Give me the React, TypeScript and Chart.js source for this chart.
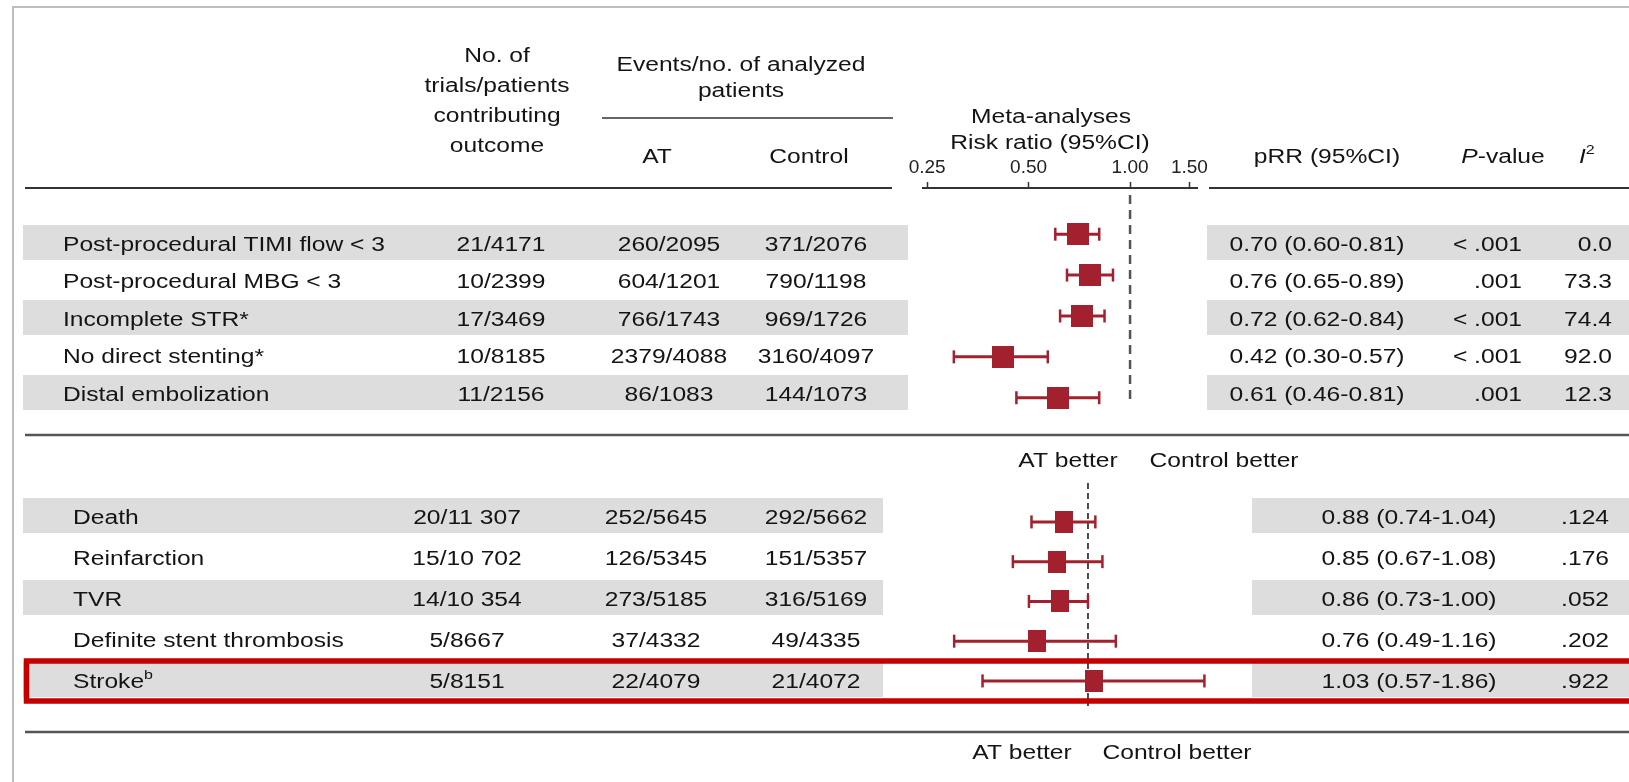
import React, { useEffect, useRef } from 'react';
import { Chart, registerables } from 'chart.js';

Chart.register(...registerables);

// ---- Procedural outcomes (upper panel) ----
const procLabels = [
  'Post-procedural TIMI flow < 3',
  'Post-procedural MBG < 3',
  'Incomplete STR*',
  'No direct stenting*',
  'Distal embolization',
];
const procTrials = ['21/4171', '10/2399', '17/3469', '10/8185', '11/2156'];
const procAT = ['260/2095', '604/1201', '766/1743', '2379/4088', '86/1083'];
const procControl = ['371/2076', '790/1198', '969/1726', '3160/4097', '144/1073'];
const procRR = [0.7, 0.76, 0.72, 0.42, 0.61];
const procLo = [0.6, 0.65, 0.62, 0.3, 0.46];
const procHi = [0.81, 0.89, 0.84, 0.57, 0.81];
const procP = ['< .001', '.001', '< .001', '< .001', '.001'];
const procI2 = ['0.0', '73.3', '74.4', '92.0', '12.3'];

// ---- Clinical outcomes (lower panel) ----
const clinLabels = ['Death', 'Reinfarction', 'TVR', 'Definite stent thrombosis', 'Stroke'];
const clinTrials = ['20/11 307', '15/10 702', '14/10 354', '5/8667', '5/8151'];
const clinAT = ['252/5645', '126/5345', '273/5185', '37/4332', '22/4079'];
const clinControl = ['292/5662', '151/5357', '316/5169', '49/4335', '21/4072'];
const clinRR = [0.88, 0.85, 0.86, 0.76, 1.03];
const clinLo = [0.74, 0.67, 0.73, 0.49, 0.57];
const clinHi = [1.04, 1.08, 1.0, 1.16, 1.86];
const clinP = ['.124', '.176', '.052', '.202', '.922'];

// Risk-ratio axis
const axisTicks = [0.25, 0.5, 1.0, 1.5];
const topAxisRange = [0.243, 1.58];
const bottomAxisRange = [0.415, 1.788];

// ---- Page layout ----
const W = 1629;
const H = 782;
const SX = 1.23; // horizontal stretch applied to table text
const FONT = '"Liberation Sans", Arial, Helvetica, sans-serif';
const INK = '#141414';
const RED = '#a3202e';
const BAND = '#dddddd';

const TOP_ROW_Y0 = 242.5;
const TOP_ROW_STEP = 37.5;
const BOT_ROW_Y0 = 515.5;
const BOT_ROW_STEP = 41;
const TOP_COLS = { label: 63, trials: 501, at: 669, control: 816, prr: 1317, p: 1522, i2: 1612 };
const BOT_COLS = { label: 73, trials: 467, at: 656, control: 816, prr: 1409, p: 1609 };

type Seg = { t: string; italic?: boolean; sup?: boolean; size?: number };
type Align = 'left' | 'center' | 'right';

function segFont(s: Seg) {
  const size = s.size ?? (s.sup ? 13 : 20);
  return `${s.italic ? 'italic ' : ''}${size}px ${FONT}`;
}

function drawRich(ctx: CanvasRenderingContext2D, segs: Seg[], x: number, y: number, align: Align) {
  ctx.save();
  const widths = segs.map((s) => {
    ctx.font = segFont(s);
    return ctx.measureText(s.t).width * SX;
  });
  const total = widths.reduce((a, b) => a + b, 0);
  let cx = align === 'left' ? x : align === 'center' ? x - total / 2 : x - total;
  ctx.textAlign = 'left';
  ctx.textBaseline = 'alphabetic';
  ctx.fillStyle = INK;
  segs.forEach((s, i) => {
    ctx.save();
    ctx.font = segFont(s);
    ctx.translate(cx, y - (s.sup ? 9 : 0));
    ctx.scale(SX, 1);
    ctx.fillText(s.t, 0, 0);
    ctx.restore();
    cx += widths[i];
  });
  ctx.restore();
}

function txt(ctx: CanvasRenderingContext2D, t: string, x: number, y: number, align: Align = 'left') {
  drawRich(ctx, [{ t }], x, y, align);
}

function hline(ctx: CanvasRenderingContext2D, x1: number, x2: number, y: number, color: string, width: number) {
  ctx.save();
  ctx.strokeStyle = color;
  ctx.lineWidth = width;
  ctx.beginPath();
  ctx.moveTo(x1, y);
  ctx.lineTo(x2, y);
  ctx.stroke();
  ctx.restore();
}

const fmt = (v: number) => v.toFixed(2);
const ciText = (rr: number, lo: number, hi: number) => `${fmt(rr)} (${fmt(lo)}-${fmt(hi)})`;

const tablePlugin = {
  id: 'forestTable',
  beforeDraw(chart: any) {
    const ctx: CanvasRenderingContext2D = chart.ctx;
    ctx.save();

    // outer frame
    ctx.strokeStyle = '#bdbdbd';
    ctx.lineWidth = 2;
    ctx.beginPath();
    ctx.moveTo(13, H);
    ctx.lineTo(13, 7);
    ctx.lineTo(W, 7);
    ctx.stroke();

    // zebra bands
    ctx.fillStyle = BAND;
    for (let i = 0; i < procLabels.length; i += 2) {
      const yc = TOP_ROW_Y0 + TOP_ROW_STEP * i;
      ctx.fillRect(23, yc - 17.5, 908 - 23, 35);
      ctx.fillRect(1207, yc - 17.5, W - 1207, 35);
    }
    for (let i = 0; i < clinLabels.length; i += 2) {
      const yc = BOT_ROW_Y0 + BOT_ROW_STEP * i;
      ctx.fillRect(23, yc - 17.5, 883 - 23, 35);
      ctx.fillRect(1252, yc - 17.5, W - 1252, 35);
    }

    // rules
    hline(ctx, 25, 892, 188, '#333', 2);
    hline(ctx, 1209, W, 188, '#333', 2);
    hline(ctx, 602, 893, 118, '#333', 1.5);
    hline(ctx, 25, W, 435, '#555', 2.5);
    hline(ctx, 25, W, 732, '#555', 2.5);

    // header
    ['No. of', 'trials/patients', 'contributing', 'outcome'].forEach((t, i) =>
      txt(ctx, t, 497, [62, 92, 122, 152][i], 'center')
    );
    txt(ctx, 'Events/no. of analyzed', 741, 71, 'center');
    txt(ctx, 'patients', 741, 97, 'center');
    txt(ctx, 'AT', 657, 163, 'center');
    txt(ctx, 'Control', 809, 163, 'center');
    txt(ctx, 'Meta-analyses', 1051, 123, 'center');
    txt(ctx, 'Risk ratio (95%CI)', 1050, 149, 'center');
    txt(ctx, 'pRR (95%CI)', 1327, 163, 'center');
    drawRich(ctx, [{ t: 'P', italic: true }, { t: '-value' }], 1503, 163, 'center');
    drawRich(ctx, [{ t: 'I', italic: true }, { t: '2', sup: true }], 1579, 163, 'left');

    // upper panel rows
    procLabels.forEach((label, i) => {
      const y = TOP_ROW_Y0 + TOP_ROW_STEP * i + 8;
      txt(ctx, label, TOP_COLS.label, y, 'left');
      txt(ctx, procTrials[i], TOP_COLS.trials, y, 'center');
      txt(ctx, procAT[i], TOP_COLS.at, y, 'center');
      txt(ctx, procControl[i], TOP_COLS.control, y, 'center');
      txt(ctx, ciText(procRR[i], procLo[i], procHi[i]), TOP_COLS.prr, y, 'center');
      txt(ctx, procP[i], TOP_COLS.p, y, 'right');
      txt(ctx, procI2[i], TOP_COLS.i2, y, 'right');
    });

    txt(ctx, 'AT better', 1068, 467, 'center');
    txt(ctx, 'Control better', 1224, 467, 'center');

    // lower panel rows
    clinLabels.forEach((label, i) => {
      const y = BOT_ROW_Y0 + BOT_ROW_STEP * i + 8.5;
      if (label === 'Stroke') {
        drawRich(ctx, [{ t: label }, { t: 'b', sup: true }], BOT_COLS.label, y, 'left');
      } else {
        txt(ctx, label, BOT_COLS.label, y, 'left');
      }
      txt(ctx, clinTrials[i], BOT_COLS.trials, y, 'center');
      txt(ctx, clinAT[i], BOT_COLS.at, y, 'center');
      txt(ctx, clinControl[i], BOT_COLS.control, y, 'center');
      txt(ctx, ciText(clinRR[i], clinLo[i], clinHi[i]), BOT_COLS.prr, y, 'center');
      txt(ctx, clinP[i], BOT_COLS.p, y, 'right');
    });

    txt(ctx, 'AT better', 1022, 759, 'center');
    txt(ctx, 'Control better', 1177, 759, 'center');

    ctx.restore();
  },
  beforeDatasetsDraw(chart: any) {
    const ctx: CanvasRenderingContext2D = chart.ctx;
    const xt = chart.scales.x.getPixelForValue(1);
    const xb = chart.scales.xb.getPixelForValue(1);
    ctx.save();
    ctx.strokeStyle = '#555';
    ctx.lineWidth = 2.5;
    ctx.setLineDash([9, 6]);
    ctx.beginPath();
    ctx.moveTo(xt, 195);
    ctx.lineTo(xt, 402);
    ctx.stroke();
    ctx.strokeStyle = '#111';
    ctx.lineWidth = 1.5;
    ctx.setLineDash([6, 4]);
    ctx.beginPath();
    ctx.moveTo(xb, 483);
    ctx.lineTo(xb, 706);
    ctx.stroke();
    ctx.restore();
  },
  afterDraw(chart: any) {
    const ctx: CanvasRenderingContext2D = chart.ctx;
    ctx.save();
    ctx.strokeStyle = '#c40000';
    ctx.lineWidth = 5.5;
    ctx.strokeRect(26.5, 661, W + 10, 40);
    ctx.restore();
  },
};

function markerBox(w: number, h: number, color: string) {
  const c = document.createElement('canvas');
  c.width = w;
  c.height = h;
  const g = c.getContext('2d')!;
  g.fillStyle = color;
  g.fillRect(0, 0, w, h);
  return c;
}

function ciDataset(lo: number, hi: number, row: number, xAxisID: string, yAxisID: string) {
  return {
    data: [
      { x: lo, y: row },
      { x: hi, y: row },
    ],
    xAxisID,
    yAxisID,
    showLine: true,
    borderColor: RED,
    borderWidth: 3,
    pointStyle: 'line',
    pointRotation: 90,
    pointRadius: 6.5,
    pointHoverRadius: 20,
    pointBorderColor: RED,
    pointBorderWidth: 2.5,
    clip: false,
  };
}

export default function App() {
  const canvasRef = useRef<HTMLCanvasElement | null>(null);

  useEffect(() => {
    if (!canvasRef.current) return;
    Chart.defaults.font.family = FONT;
    const sqTop = markerBox(22, 22, RED);
    const sqBottom = markerBox(18, 22, RED);

    const datasets: any[] = [
      {
        data: procRR.map((v, i) => ({ x: v, y: i })),
        xAxisID: 'x',
        yAxisID: 'yt',
        pointStyle: sqTop,
        pointRadius: 5,
        pointHoverRadius: 20,
        clip: false,
      },
      {
        data: clinRR.map((v, i) => ({ x: v, y: i })),
        xAxisID: 'xb',
        yAxisID: 'yb',
        pointStyle: sqBottom,
        pointRadius: 5,
        pointHoverRadius: 20,
        clip: false,
      },
      ...procLo.map((lo, i) => ciDataset(lo, procHi[i], i, 'x', 'yt')),
      ...clinLo.map((lo, i) => ciDataset(lo, clinHi[i], i, 'xb', 'yb')),
    ];

    const chart = new Chart(canvasRef.current, {
      type: 'scatter',
      data: { datasets },
      plugins: [tablePlugin],
      options: {
        animation: false,
        responsive: true,
        maintainAspectRatio: false,
        devicePixelRatio: 1,
        events: [],
        layout: { padding: { left: 923, right: W - 1197, top: 158, bottom: H - 733 } },
        plugins: { legend: { display: false }, tooltip: { enabled: false } },
        scales: {
          x: {
            type: 'logarithmic',
            position: 'top',
            min: topAxisRange[0],
            max: topAxisRange[1],
            afterBuildTicks: (s: any) => {
              s.ticks = axisTicks.map((v) => ({ value: v }));
            },
            afterFit: (s: any) => {
              s.height = 30;
            },
            ticks: {
              autoSkip: false,
              maxRotation: 0,
              padding: 3,
              color: '#222',
              font: { size: 19, family: FONT },
              callback: (v: any) => Number(v).toFixed(2),
            },
            grid: {
              drawOnChartArea: false,
              drawTicks: true,
              tickLength: 6,
              tickColor: '#333',
              tickWidth: 1.5,
            },
            border: { display: true, color: '#333', width: 2 },
          },
          xb: {
            type: 'logarithmic',
            display: false,
            min: bottomAxisRange[0],
            max: bottomAxisRange[1],
          },
          yt: { type: 'linear', display: false, reverse: true, min: -1.13, max: 12.2 },
          yb: { type: 'linear', display: false, reverse: true, min: -8.4, max: 5.31 },
        },
      } as any,
    });
    return () => chart.destroy();
  }, []);

  return (
    <div style={{ position: 'absolute', left: 0, top: 0, width: W, height: H, background: '#fff' }}>
      <canvas ref={canvasRef} style={{ display: 'block' }} />
    </div>
  );
}
